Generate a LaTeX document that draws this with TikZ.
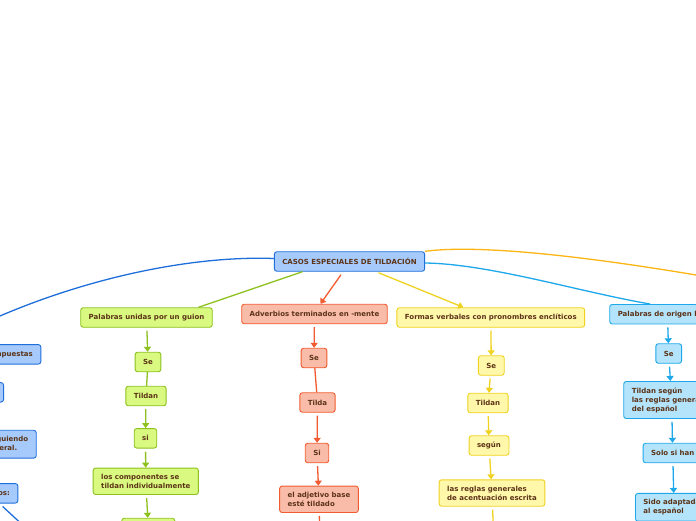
\documentclass[tikz,border=0pt]{standalone}
\usepackage{fontspec}
\setmainfont{DejaVu Sans}
\usetikzlibrary{arrows.meta,calc}

\definecolor{ink}{HTML}{5C3317}
\definecolor{bluefill}{HTML}{A6CAFB}
\definecolor{blueline}{HTML}{1F6FDB}
\definecolor{greenfill}{HTML}{D9F980}
\definecolor{greenline}{HTML}{8CC11E}
\definecolor{redfill}{HTML}{F9BCA8}
\definecolor{redline}{HTML}{F25A30}
\definecolor{yellowfill}{HTML}{FFF7AA}
\definecolor{yellowline}{HTML}{EFD21F}
\definecolor{cyanfill}{HTML}{B3E4FB}
\definecolor{cyanline}{HTML}{1CA8EA}
\definecolor{orangeline}{HTML}{FBB514}

\tikzset{
  topic/.style={draw, rounded corners=2.5pt, line width=0.9pt, font=\fontsize{7}{9}\selectfont\bfseries,
    text=ink, inner xsep=8pt, inner ysep=6pt, minimum height=19.5pt, align=left},
  bluebox/.style={topic, draw=blueline, fill=bluefill},
  greenbox/.style={topic, draw=greenline, fill=greenfill},
  redbox/.style={topic, draw=redline, fill=redfill},
  yellowbox/.style={topic, draw=yellowline, fill=yellowfill},
  cyanbox/.style={topic, draw=cyanline, fill=cyanfill},
  link/.style={line width=1.3pt},
  flow/.style={link, ->, shorten <=3pt},
}

\begin{document}
\begin{tikzpicture}[x=1pt,y=-1pt,>={Triangle[width=7pt,length=5pt]}]
  \useasboundingbox (0,0) rectangle (696,520);
  \clip (0,0) rectangle (696,520);

  \node[bluebox] (casos) at (349.5,261.5) {CASOS ESPECIALES DE TILDACIÓN};

  % guion
  \node[greenbox] (g0) at (146.5,317.5) {Palabras unidas por un guion};
  \node[greenbox] (g1) at (148,362) {Se};
  \node[greenbox] (g2) at (146,396) {Tildan};
  \node[greenbox] (g3) at (145.5,438.3) {si};
  \node[greenbox] (g4) at (145.8,481.3) {los componentes se\\tildan individualmente};
  \node[greenbox, minimum width=53pt] (g5) at (148.3,528) {};

  % -mente
  \node[redbox] (r0) at (314.5,314) {Adverbios terminados en -mente};
  \node[redbox] (r1) at (314,358) {Se};
  \node[redbox] (r2) at (317.5,402.5) {Tilda};
  \node[redbox] (r3) at (317,453) {Si};
  \node[redbox] (r4) at (319,499.3) {el adjetivo base\\esté tildado};
  \coordinate (r5) at (320,548);

  % encliticos
  \node[yellowbox] (y0) at (490.8,317.5) {Formas verbales con pronombres enclíticos};
  \node[yellowbox] (y1) at (491.3,365.5) {Se};
  \node[yellowbox] (y2) at (488,403) {Tildan};
  \node[yellowbox] (y3) at (489,445.5) {según};
  \node[yellowbox] (y4) at (492,493) {las reglas generales\\de acentuación escrita};
  \coordinate (y5) at (494,545);

  % origen
  \node[cyanbox, anchor=west] (c0) at (609.3,314.2) {Palabras de origen latino};
  \node[cyanbox] (c1) at (668.7,353.5) {Se};
  \node[cyanbox, anchor=west] (c2) at (623.3,400) {Tildan según\\las reglas generales\\del español};
  \node[cyanbox, anchor=west] (c3) at (642.7,453) {Solo si han};
  \node[cyanbox, anchor=west] (c4) at (635,507.3) {Sido adaptadas\\al español};

  % compuestas
  \node[bluebox, anchor=east] (b1) at (41.3,354.3) {Palabras compuestas};
  \node[bluebox, anchor=east] (b2) at (4,392.3) {Se};
  \node[bluebox, anchor=east] (b3) at (36.7,444.2) {Se tildan siguiendo\\la regla general.};
  \node[bluebox, anchor=east] (b4) at (18.3,493.3) {Ejemplos:};
  \coordinate (ej) at (40,541);
  \coordinate (lft) at (-60,345);
  \coordinate (far) at (780,290);

  % ramas principales
  \draw[link, blueline] ([yshift=3pt]casos.west) .. controls (180,255) and (50,285) .. (lft);
  \draw[link, orangeline] (casos.north east) .. controls (480,244) and (600,256) .. (far);
  \draw[link, cyanline] ([yshift=-1.5pt]casos.east) .. controls (490,264) and (580,292) .. ([xshift=40.7pt]c0.north west);
  \draw[link, greenline] ([xshift=-47pt]casos.south) -- ([xshift=52pt]g0.north);
  \draw[link, redline, ->] ([xshift=-8.5pt,yshift=-3pt]casos.south) -- ([xshift=6pt]r0.north);
  \draw[link, yellowline, ->] ([xshift=29pt,yshift=-1pt]casos.south) -- ([xshift=-27.5pt]y0.north);

  % cadenas
  \foreach \a/\b in {g0/g1, g2/g3, g3/g4, g4/g5}
    \draw[flow, greenline] (\a) -- (\b);
  \draw[link, greenline] (g1) -- (g2);
  \foreach \a/\b in {r0/r1, r2/r3, r3/r4, r4/r5}
    \draw[flow, redline] (\a) -- (\b);
  \draw[link, redline] (r1) -- (r2);
  \foreach \a/\b in {y0/y1, y1/y2, y2/y3, y3/y4, y4/y5}
    \draw[flow, yellowline] (\a) -- (\b);
  \foreach \a/\b in {c0/c1, c1/c2, c2/c3, c3/c4}
    \draw[flow, cyanline] (\a) -- (\b);
  \foreach \a/\b in {b1/b2, b2/b3, b3/b4}
    \draw[flow, blueline] (\a) -- (\b);
  \draw[link, blueline] ([xshift=12pt,yshift=-3pt]b4.south) -- (ej);
\end{tikzpicture}
\end{document}
